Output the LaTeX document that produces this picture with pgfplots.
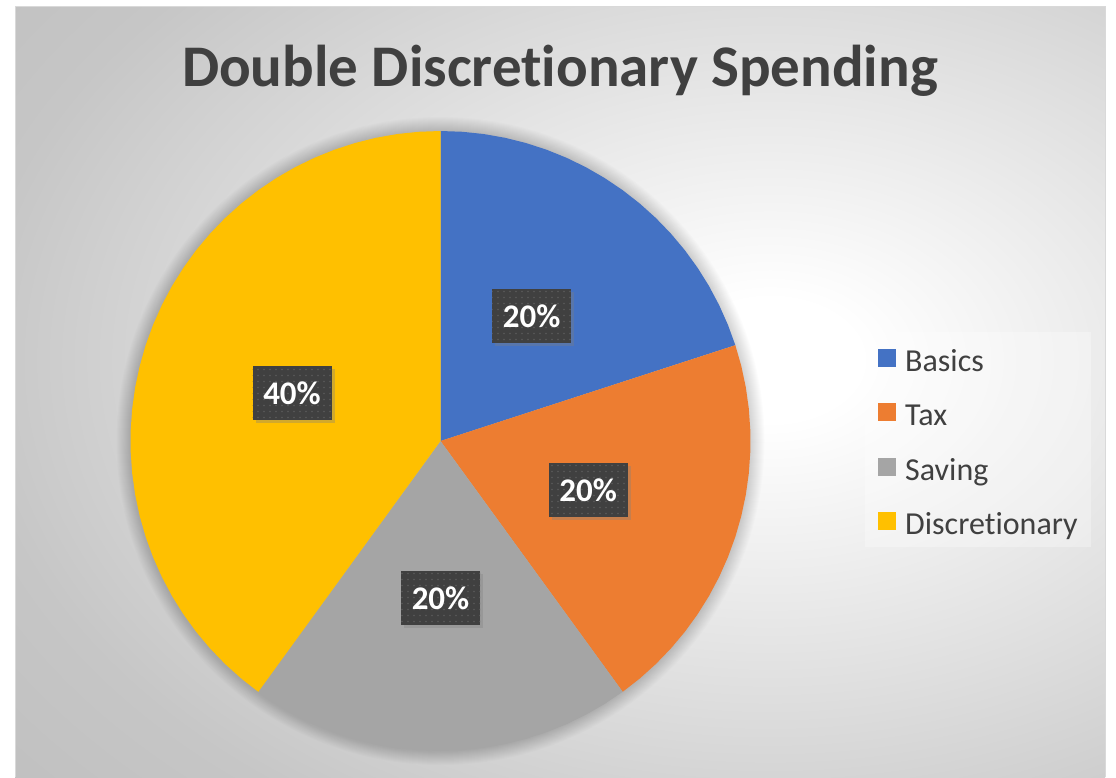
\documentclass[border=0pt]{standalone}
\usepackage{pgfplots}
\pgfplotsset{compat=1.18}
\usepackage{fontspec}
\setmainfont{Carlito}[Ligatures={NoCommon}]
\usetikzlibrary{patterns.meta,shadows}
\definecolor{basics}{HTML}{4472C4}
\definecolor{tax}{HTML}{ED7D31}
\definecolor{saving}{HTML}{A5A5A5}
\definecolor{disc}{HTML}{FFC000}
\definecolor{titlegray}{HTML}{404040}
\definecolor{labelbg}{HTML}{404040}
\definecolor{labeldot}{HTML}{5A5A5A}
\definecolor{bgmid}{HTML}{C6C6C6}
\definecolor{bgedge}{HTML}{BCBCBC}
\pgfdeclareradialshading{bgshade}{\pgfpoint{0bp}{0bp}}{color(0bp)=(white); color(2bp)=(white); color(17.9bp)=(bgmid); color(25bp)=(bgedge); color(50bp)=(bgedge)}
\tikzset{lbl/.style={fill=labelbg, postaction={pattern={Dots[distance=6pt,radius=0.9pt]}, pattern color=labeldot},
  text=white, font=\bfseries\fontsize{33}{33}\selectfont, minimum width=79pt, minimum height=54pt, inner sep=0pt,
  drop shadow={shadow xshift=3pt, shadow yshift=-3pt, opacity=0.35}}}
\begin{document}
\begin{tikzpicture}[x=1pt,y=1pt]
\fill[white] (0,0) rectangle (1116,-777);
\begin{scope}
\clip (15,-6) rectangle (1105,-777);
\shade[shading=bgshade] (770,-360) ellipse (1120 and 756);
\end{scope}
\draw[black!15, line width=1pt] (15,-777) -- (15,-6) -- (1105,-6) -- (1105,-777);
\foreach \k in {1,...,14} { \fill[black, opacity=0.012] (440.5,-441) circle ({310+\k}); }
\node[anchor=base, text=titlegray, font=\bfseries\fontsize{59}{60}\selectfont] at (560,-86) {Double Discretionary Spending};
\begin{axis}[at={(440.5pt,-441pt)}, anchor=center, scale only axis, width=620pt, height=620pt,
  xmin=-1, xmax=1, ymin=-1, ymax=1, hide axis, clip=false,
  legend style={at={(1.1847,0.6758)}, anchor=north west, draw=none, fill=white, fill opacity=0.3, text opacity=1,
    font=\fontsize{32}{32}\selectfont, text=titlegray, row sep=25pt, column sep=9pt, inner xsep=13pt, inner ysep=11pt,
    nodes={inner sep=0pt}},
  legend cell align=left,
  legend image code/.code={\fill[#1, fill opacity=1] (0pt,-9pt) rectangle (18pt,9pt);}]
\addplot[data cs=polar, fill=basics, draw=none] coordinates {(0,0) (90,1) (86,1) (82,1) (78,1) (74,1) (70,1) (66,1) (62,1) (58,1) (54,1) (50,1) (46,1) (42,1) (38,1) (34,1) (30,1) (26,1) (22,1) (18,1)} -- cycle;
\addlegendentry{\rule[-11pt]{0pt}{39pt}Basics}
\addplot[data cs=polar, fill=tax, draw=none] coordinates {(0,0) (18,1) (14,1) (10,1) (6,1) (2,1) (-2,1) (-6,1) (-10,1) (-14,1) (-18,1) (-22,1) (-26,1) (-30,1) (-34,1) (-38,1) (-42,1) (-46,1) (-50,1) (-54,1)} -- cycle;
\addlegendentry{\rule[-11pt]{0pt}{39pt}Tax}
\addplot[data cs=polar, fill=saving, draw=none] coordinates {(0,0) (-54,1) (-58,1) (-62,1) (-66,1) (-70,1) (-74,1) (-78,1) (-82,1) (-86,1) (-90,1) (-94,1) (-98,1) (-102,1) (-106,1) (-110,1) (-114,1) (-118,1) (-122,1) (-126,1)} -- cycle;
\addlegendentry{\rule[-11pt]{0pt}{39pt}Saving}
\addplot[data cs=polar, fill=disc, draw=none] coordinates {(0,0) (234,1) (230,1) (226,1) (222,1) (218,1) (214,1) (210,1) (206,1) (202,1) (198,1) (194,1) (190,1) (186,1) (182,1) (178,1) (174,1) (170,1) (166,1) (162,1) (158,1) (154,1) (150,1) (146,1) (142,1) (138,1) (134,1) (130,1) (126,1) (122,1) (118,1) (114,1) (110,1) (106,1) (102,1) (98,1) (94,1) (90,1)} -- cycle;
\addlegendentry{\rule[-11pt]{0pt}{39pt}Discretionary}
\node[lbl] at (axis cs:0.294,0.403) {20\%};
\node[lbl] at (axis cs:0.476,-0.158) {20\%};
\node[lbl] at (axis cs:0,-0.506) {20\%};
\node[lbl] at (axis cs:-0.479,0.155) {40\%};
\end{axis}
\end{tikzpicture}
\end{document}
